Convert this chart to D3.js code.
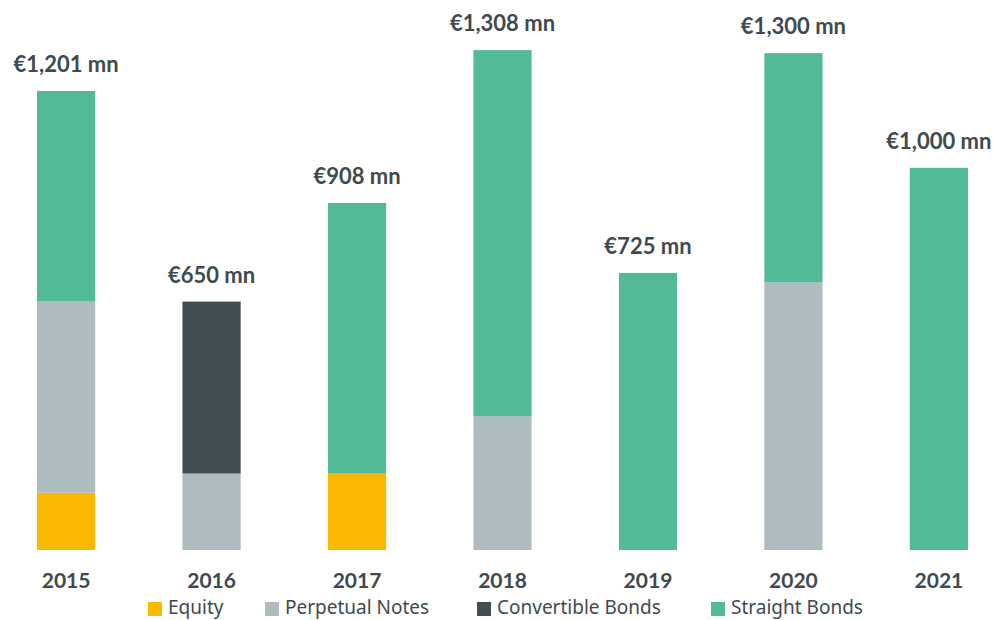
<!DOCTYPE html>
<html>
<head>
<meta charset="utf-8">
<script src="https://cdn.jsdelivr.net/npm/d3@7"></script>
<style>
  body { margin: 0; background: #fff; }
  svg { display: block; font-family: Lato, "Open Sans", sans-serif; }
</style>
</head>
<body>
<svg id="chart"></svg>
<script>
// Issuance by instrument, € mn
const years = ['2015', '2016', '2017', '2018', '2019', '2020', '2021'];
const equity      = [150, 0, 200, 0, 0, 0, 0];
const perpetual   = [500, 200, 0, 350, 0, 700, 0];
const convertible = [0, 450, 0, 0, 0, 0, 0];
const straight    = [551, 0, 708, 958, 725, 600, 1000];
const totalLabels = ['€1,201 mn', '€650 mn', '€908 mn', '€1,308 mn', '€725 mn', '€1,300 mn', '€1,000 mn'];

const seriesNames = ['Equity', 'Perpetual Notes', 'Convertible Bonds', 'Straight Bonds'];
const seriesKeys = ['equity', 'perpetual', 'convertible', 'straight'];
const colors = ['#fab800', '#aebbbf', '#414f55', '#52ba96'];

const width = 994, height = 620;
const textColor = '#3e4a50';

const rows = years.map((y, i) => ({
  year: y,
  equity: equity[i],
  perpetual: perpetual[i],
  convertible: convertible[i],
  straight: straight[i],
  label: totalLabels[i]
}));

const svg = d3.select('#chart')
  .attr('width', width)
  .attr('height', height);

const x = d3.scaleBand()
  .domain(years)
  .range([37, 968])
  .paddingInner(0.6)
  .paddingOuter(0);

const y = d3.scaleLinear()
  .domain([0, 1201])
  .range([550, 91]);

const stack = d3.stack().keys(seriesKeys);
const layers = stack(rows);

// Stacked bars
svg.append('g')
  .selectAll('g')
  .data(layers)
  .enter()
  .append('g')
  .attr('fill', (d, i) => colors[i])
  .selectAll('rect')
  .data(d => d.filter(s => s[1] - s[0] > 0))
  .enter()
  .append('rect')
  .attr('x', d => x(d.data.year))
  .attr('width', x.bandwidth())
  .attr('y', d => y(d[1]))
  .attr('height', d => y(d[0]) - y(d[1]));

// Total labels
svg.append('g')
  .selectAll('text')
  .data(rows)
  .enter()
  .append('text')
  .attr('x', d => x(d.year) + x.bandwidth() / 2)
  .attr('y', d => y(d.equity + d.perpetual + d.convertible + d.straight) - 19)
  .attr('text-anchor', 'middle')
  .style('font-size', '22px')
  .style('font-weight', 'bold')
  .style('fill', textColor)
  .text(d => d.label);

// X axis labels
const xAxis = d3.axisBottom(x).tickSize(0).tickPadding(0);
const xg = svg.append('g')
  .attr('transform', 'translate(0,570)')
  .call(xAxis);
xg.select('.domain').remove();
xg.selectAll('text')
  .attr('dy', '18px')
  .style('font-family', 'Lato, "Open Sans", sans-serif')
  .style('font-size', '21px')
  .style('font-weight', 'bold')
  .style('fill', textColor);

// Legend
const legendX = [148, 265, 477, 711];
const legend = svg.append('g')
  .selectAll('g')
  .data(seriesNames)
  .enter()
  .append('g')
  .attr('transform', (d, i) => `translate(${legendX[i]},602)`);

legend.append('rect')
  .attr('width', 14)
  .attr('height', 14)
  .attr('fill', (d, i) => colors[i]);

legend.append('text')
  .attr('x', 20)
  .attr('y', 12)
  .style('font-family', '"Noto Sans", sans-serif')
  .style('font-size', '19px')
  .style('fill', textColor)
  .text(d => d);
</script>
</body>
</html>
